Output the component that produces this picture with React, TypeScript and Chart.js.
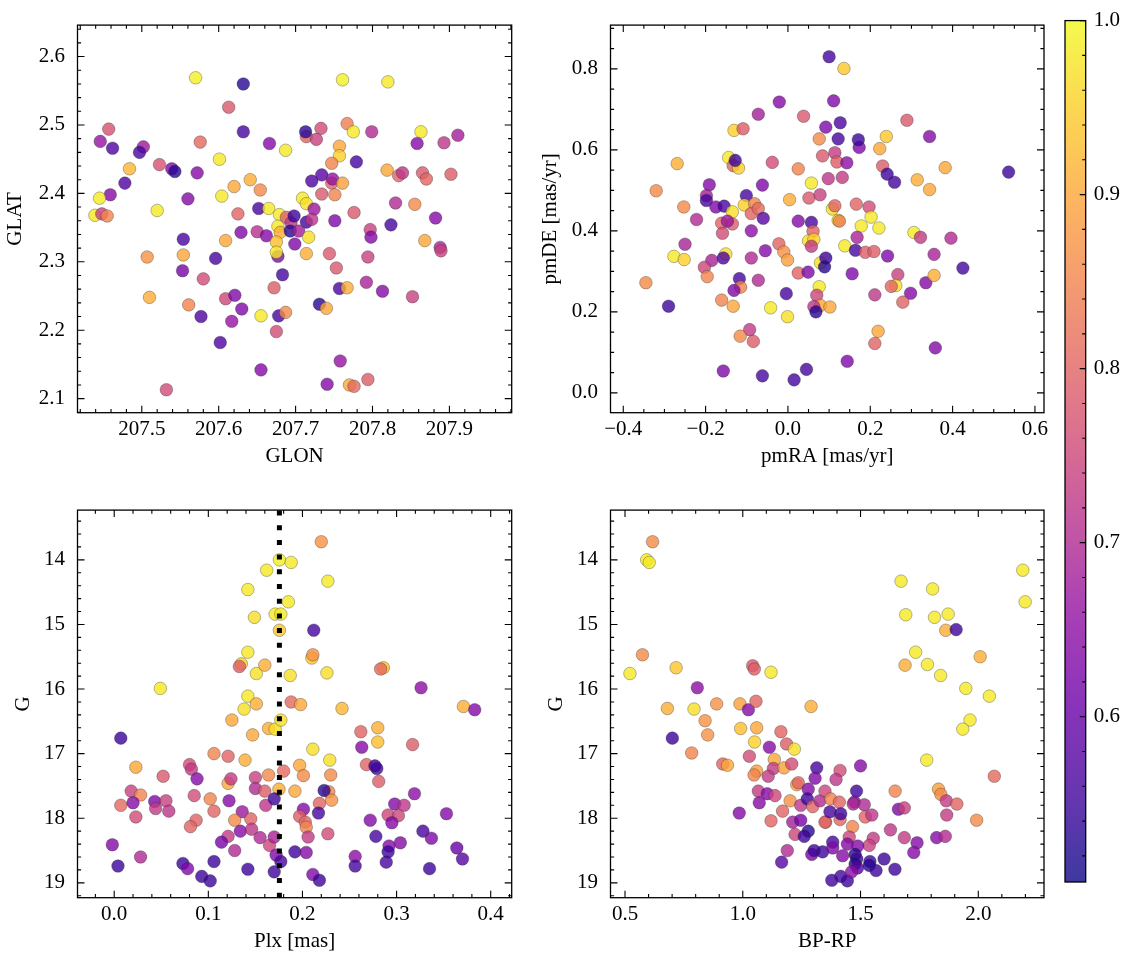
import React, { useEffect, useRef } from "react";
import { Chart, registerables } from "chart.js";

Chart.register(...registerables);

// ---------------- data ----------------
// Panel 1: position (GLON, GLAT) with membership probability
const GLON = [
  207.570, 207.632, 207.613, 207.457, 207.446, 207.462, 207.632, 207.666, 207.687, 207.576,
  207.502, 207.497, 207.523, 207.539, 207.543, 207.572, 207.601, 207.484, 207.478, 207.459,
  207.445, 207.439, 207.448, 207.455, 207.520, 207.560, 207.604, 207.620, 207.641, 207.654,
  207.625, 207.652, 207.665, 207.629, 207.650, 207.662, 207.554, 207.609, 207.507, 207.554,
  207.596, 207.553, 207.580, 207.510, 207.561, 207.577, 207.609, 207.621, 207.630, 207.617,
  207.602, 207.655, 207.532, 207.655, 207.678, 207.687, 207.675, 207.672, 207.683, 207.677,
  207.679, 207.677, 207.680, 207.675, 207.675, 207.688, 207.694, 207.698, 207.693, 207.699,
  207.761, 207.820, 207.714, 207.713, 207.733, 207.727, 207.767, 207.775, 207.799, 207.863,
  207.858, 207.893, 207.911, 207.757, 207.757, 207.747, 207.779, 207.734, 207.721, 207.747,
  207.748, 207.761, 207.734, 207.751, 207.819, 207.834, 207.839, 207.865, 207.870, 207.902,
  207.709, 207.714, 207.724, 207.714, 207.721, 207.704, 207.717, 207.714, 207.751, 207.776,
  207.797, 207.798, 207.824, 207.830, 207.855, 207.882, 207.868, 207.888, 207.889, 207.744,
  207.753, 207.794, 207.792, 207.813, 207.852, 207.757, 207.767, 207.731, 207.740, 207.758,
  207.741, 207.770, 207.776, 207.794,
];
const GLAT = [
  2.569, 2.560, 2.526, 2.494, 2.476, 2.466, 2.490, 2.473, 2.463, 2.475,
  2.468, 2.460, 2.442, 2.436, 2.432, 2.430, 2.450, 2.436, 2.415, 2.398,
  2.393, 2.368, 2.370, 2.367, 2.375, 2.392, 2.396, 2.410, 2.420, 2.405,
  2.370, 2.378, 2.378, 2.343, 2.344, 2.338, 2.333, 2.331, 2.307, 2.310,
  2.305, 2.287, 2.275, 2.248, 2.237, 2.220, 2.246, 2.251, 2.231, 2.213,
  2.182, 2.142, 2.113, 2.221, 2.221, 2.226, 2.198, 2.262, 2.281, 2.308,
  2.369, 2.352, 2.343, 2.329, 2.314, 2.365, 2.357, 2.367, 2.345, 2.326,
  2.566, 2.563, 2.483, 2.490, 2.495, 2.479, 2.502, 2.490, 2.490, 2.490,
  2.473, 2.474, 2.485, 2.469, 2.455, 2.444, 2.446, 2.427, 2.418, 2.415,
  2.421, 2.415, 2.399, 2.398, 2.434, 2.426, 2.430, 2.430, 2.421, 2.428,
  2.393, 2.385, 2.377, 2.358, 2.362, 2.345, 2.336, 2.312, 2.360, 2.372,
  2.347, 2.336, 2.354, 2.386, 2.384, 2.364, 2.331, 2.321, 2.316, 2.312,
  2.291, 2.307, 2.270, 2.257, 2.249, 2.261, 2.262, 2.238, 2.232, 2.155,
  2.121, 2.120, 2.118, 2.128,
];
const P_POS = [
  0.99, 0.53, 0.78, 0.77, 0.66, 0.57, 0.56, 0.64, 0.98, 0.81,
  0.67, 0.56, 0.77, 0.63, 0.53, 0.64, 0.98, 0.92, 0.57, 0.64,
  0.98, 0.98, 0.74, 0.85, 0.98, 0.64, 0.98, 0.90, 0.91, 0.86,
  0.80, 0.56, 0.98, 0.63, 0.71, 0.64, 0.56, 0.90, 0.87, 0.90,
  0.56, 0.62, 0.76, 0.91, 0.85, 0.57, 0.75, 0.63, 0.63, 0.66,
  0.57, 0.64, 0.76, 0.98, 0.56, 0.86, 0.76, 0.79, 0.56, 0.63,
  0.98, 0.98, 0.91, 0.93, 0.98, 0.80, 0.72, 0.55, 0.53, 0.63,
  0.99, 0.98, 0.80, 0.53, 0.76, 0.74, 0.84, 0.98, 0.70, 0.98,
  0.64, 0.72, 0.68, 0.90, 0.95, 0.85, 0.56, 0.58, 0.57, 0.80,
  0.66, 0.89, 0.78, 0.85, 0.90, 0.80, 0.72, 0.78, 0.80, 0.79,
  0.98, 0.97, 0.67, 0.56, 0.72, 0.68, 0.97, 0.91, 0.63, 0.78,
  0.74, 0.64, 0.56, 0.70, 0.86, 0.64, 0.90, 0.69, 0.74, 0.78,
  0.78, 0.74, 0.69, 0.64, 0.74, 0.56, 0.91, 0.53, 0.90, 0.66,
  0.64, 0.90, 0.81, 0.79,
];

// Panel 2: proper motions
const PMRA = [
  0.100, -0.021, -0.072, 0.038, 0.092, -0.131, -0.109, 0.076, 0.084, -0.269,
  -0.144, -0.133, -0.120, -0.128, -0.038, 0.025, 0.098, 0.057, -0.320, -0.191,
  -0.062, -0.198, -0.198, -0.101, -0.175, -0.155, -0.106, -0.081, -0.253, -0.135,
  -0.089, -0.072, 0.004, 0.051, 0.078, -0.222, -0.161, -0.135, -0.147, -0.060,
  0.025, 0.057, -0.159, -0.089, 0.061, 0.050, 0.063, 0.057, -0.250, -0.277,
  -0.252, -0.185, -0.203, -0.196, -0.151, -0.157, -0.089, -0.055, -0.022, -0.010,
  -0.001, 0.025, 0.049, 0.079, 0.092, 0.089, -0.345, -0.290, -0.118, -0.115,
  -0.131, -0.072, -0.161, -0.133, -0.042, -0.004, -0.001, 0.076, 0.070, 0.079,
  0.102, 0.063, 0.068, -0.093, -0.116, -0.084, -0.157, -0.062, 0.015, 0.045,
  0.136, 0.111, 0.289, 0.127, 0.239, 0.344, 0.122, 0.173, 0.171, 0.223,
  0.114, 0.119, 0.143, 0.230, 0.241, 0.259, 0.314, 0.344, 0.382, 0.536,
  0.132, 0.108, 0.114, 0.166, 0.197, 0.202, 0.178, 0.221, 0.122, 0.125,
  0.168, 0.306, 0.322, 0.396, 0.138, 0.164, 0.188, 0.209, 0.242, 0.355,
  0.156, 0.267, 0.262, 0.251, 0.335, 0.355, 0.425, 0.211, 0.298, 0.279,
  0.219, 0.211, 0.358, 0.144,
];
const PMDE = [
  0.830, 0.718, 0.688, 0.683, 0.656, 0.648, 0.652, 0.627, 0.585, 0.566,
  0.581, 0.561, 0.555, 0.574, 0.569, 0.553, 0.529, 0.518, 0.499, 0.514,
  0.513, 0.487, 0.475, 0.487, 0.459, 0.461, 0.464, 0.467, 0.459, 0.447,
  0.443, 0.455, 0.477, 0.481, 0.489, 0.428, 0.419, 0.417, 0.424, 0.431,
  0.424, 0.421, 0.394, 0.400, 0.399, 0.375, 0.379, 0.362, 0.367, 0.337,
  0.329, 0.327, 0.310, 0.287, 0.343, 0.333, 0.333, 0.351, 0.368, 0.348,
  0.328, 0.296, 0.298, 0.321, 0.333, 0.311, 0.272, 0.214, 0.282, 0.261,
  0.253, 0.278, 0.229, 0.214, 0.210, 0.245, 0.188, 0.262, 0.241, 0.216,
  0.212, 0.213, 0.200, 0.156, 0.140, 0.127, 0.054, 0.042, 0.032, 0.058,
  0.801, 0.721, 0.673, 0.667, 0.633, 0.633, 0.627, 0.606, 0.625, 0.603,
  0.593, 0.570, 0.568, 0.560, 0.540, 0.520, 0.526, 0.502, 0.556, 0.545,
  0.532, 0.454, 0.462, 0.466, 0.459, 0.434, 0.412, 0.407, 0.426, 0.424,
  0.384, 0.396, 0.384, 0.382, 0.363, 0.352, 0.347, 0.349, 0.338, 0.342,
  0.294, 0.292, 0.265, 0.263, 0.272, 0.290, 0.308, 0.242, 0.246, 0.224,
  0.152, 0.122, 0.111, 0.078,
];
const P_PM = [
  0.56, 0.64, 0.68, 0.78, 0.63, 0.95, 0.79, 0.86, 0.78, 0.91,
  0.98, 0.80, 0.95, 0.55, 0.76, 0.85, 0.72, 0.98, 0.86, 0.64,
  0.63, 0.68, 0.56, 0.56, 0.63, 0.56, 0.95, 0.85, 0.86, 0.97,
  0.80, 0.81, 0.91, 0.78, 0.74, 0.70, 0.80, 0.79, 0.67, 0.58,
  0.64, 0.56, 0.76, 0.65, 0.80, 0.97, 0.95, 0.73, 0.69, 0.98,
  0.95, 0.69, 0.75, 0.85, 0.97, 0.57, 0.70, 0.64, 0.80, 0.87,
  0.89, 0.80, 0.63, 0.97, 0.55, 0.53, 0.86, 0.55, 0.56, 0.85,
  0.63, 0.70, 0.85, 0.90, 0.98, 0.56, 0.97, 0.98, 0.75, 0.90,
  0.90, 0.72, 0.53, 0.73, 0.86, 0.79, 0.63, 0.56, 0.56, 0.56,
  0.94, 0.63, 0.78, 0.57, 0.94, 0.64, 0.56, 0.63, 0.55, 0.90,
  0.73, 0.79, 0.65, 0.79, 0.55, 0.56, 0.91, 0.90, 0.90, 0.55,
  0.73, 0.97, 0.80, 0.80, 0.76, 0.98, 0.98, 0.98, 0.97, 0.84,
  0.69, 0.98, 0.73, 0.70, 0.98, 0.56, 0.79, 0.79, 0.63, 0.69,
  0.63, 0.74, 0.97, 0.80, 0.64, 0.91, 0.56, 0.72, 0.64, 0.80,
  0.90, 0.80, 0.64, 0.63,
];

// Panel 3: parallax vs G
const PLX = [
  0.1755, 0.188, 0.162, 0.142, 0.185, 0.149, 0.171, 0.177, 0.1755, 0.142,
  0.135, 0.133, 0.151, 0.160, 0.187, 0.049, 0.142, 0.151, 0.138, 0.188,
  0.125, 0.164, 0.171, 0.177, 0.147, 0.007, 0.106, 0.121, 0.139, 0.023,
  0.080, 0.082, 0.052, 0.088, 0.121, 0.124, 0.150, 0.164, 0.180, 0.018,
  0.028, 0.007, 0.020, 0.023, 0.043, 0.055, 0.044, 0.058, 0.085, 0.150,
  0.160, 0.175, 0.102, 0.122, 0.161, 0.170, 0.106, 0.136, 0.128, 0.145,
  0.087, 0.081, 0.134, 0.146, 0.155, 0.121, 0.114, 0.128, 0.165, 0.170,
  0.172, 0.177, -0.002, 0.028, 0.004, 0.073, 0.078, 0.106, 0.093, 0.102,
  0.142, 0.170, 0.220, 0.227, 0.212, 0.210, 0.211, 0.226, 0.286, 0.283,
  0.326, 0.198, 0.242, 0.371, 0.383, 0.262, 0.280, 0.280, 0.263, 0.317,
  0.211, 0.229, 0.197, 0.201, 0.230, 0.268, 0.279, 0.277, 0.281, 0.192,
  0.228, 0.223, 0.231, 0.218, 0.201, 0.217, 0.197, 0.203, 0.204, 0.206,
  0.227, 0.272, 0.291, 0.298, 0.308, 0.319, 0.302, 0.295, 0.278, 0.304,
  0.292, 0.291, 0.289, 0.256, 0.256, 0.328, 0.337, 0.353, 0.364, 0.370,
  0.335, 0.192, 0.204, 0.211, 0.218,
];
const G_PLX = [
  14.00, 14.04, 14.16, 14.46, 14.65, 14.89, 14.84, 14.84, 15.09, 15.43,
  15.61, 15.65, 15.76, 15.63, 15.79, 15.99, 16.11, 16.23, 16.31, 16.20,
  16.48, 16.61, 16.62, 16.48, 16.71, 16.76, 17.00, 17.04, 17.10, 17.21,
  17.17, 17.24, 17.35, 17.39, 17.46, 17.39, 17.37, 17.33, 17.27, 17.58,
  17.64, 17.80, 17.76, 17.98, 17.74, 17.73, 17.85, 17.89, 17.65, 17.54,
  17.58, 17.55, 17.70, 17.73, 17.80, 17.70, 17.89, 17.90, 18.03, 18.01,
  18.03, 18.13, 18.20, 18.17, 18.30, 18.28, 18.37, 18.50, 18.42, 18.29,
  18.57, 18.67, 18.41, 18.60, 18.74, 18.70, 18.78, 18.67, 18.90, 18.97,
  18.79, 18.83, 13.72, 14.33, 15.09, 15.52, 15.47, 15.75, 15.67, 15.69,
  15.98, 16.24, 16.30, 16.27, 16.32, 16.66, 16.60, 16.82, 16.90, 16.86,
  16.93, 17.10, 17.18, 17.34, 17.33, 17.17, 17.23, 17.19, 17.43, 17.58,
  17.59, 17.57, 17.72, 17.77, 17.86, 17.92, 17.97, 18.06, 18.14, 18.29,
  18.24, 18.03, 17.95, 17.78, 17.80, 17.62, 17.96, 18.07, 18.28, 18.38,
  18.43, 18.52, 18.68, 18.59, 18.74, 18.20, 18.31, 17.93, 18.46, 18.63,
  18.78, 18.52, 18.53, 18.87, 18.96,
];
const P_PLX = [
  0.99, 0.98, 0.98, 0.98, 0.98, 0.97, 0.98, 0.98, 0.94, 0.98,
  0.95, 0.79, 0.97, 0.91, 0.97, 0.98, 0.98, 0.91, 0.97, 0.81,
  0.90, 0.91, 0.97, 0.97, 0.90, 0.55, 0.85, 0.80, 0.91, 0.90,
  0.76, 0.73, 0.78, 0.64, 0.90, 0.73, 0.74, 0.86, 0.81, 0.74,
  0.85, 0.81, 0.64, 0.76, 0.63, 0.74, 0.73, 0.72, 0.76, 0.70,
  0.79, 0.91, 0.85, 0.64, 0.72, 0.55, 0.80, 0.67, 0.86, 0.80,
  0.80, 0.80, 0.64, 0.72, 0.70, 0.73, 0.62, 0.70, 0.75, 0.69,
  0.63, 0.56, 0.64, 0.70, 0.55, 0.55, 0.63, 0.55, 0.55, 0.55,
  0.55, 0.55, 0.87, 0.98, 0.56, 0.94, 0.87, 0.97, 0.93, 0.81,
  0.65, 0.90, 0.92, 0.91, 0.64, 0.80, 0.91, 0.93, 0.64, 0.79,
  0.97, 0.97, 0.90, 0.86, 0.86, 0.80, 0.56, 0.55, 0.79, 0.90,
  0.85, 0.53, 0.87, 0.80, 0.64, 0.56, 0.79, 0.80, 0.85, 0.73,
  0.76, 0.64, 0.75, 0.64, 0.72, 0.65, 0.75, 0.64, 0.56, 0.64,
  0.64, 0.55, 0.56, 0.65, 0.56, 0.56, 0.63, 0.64, 0.60, 0.58,
  0.55, 0.55, 0.64, 0.63, 0.55,
];
const PLX_CUT = 0.1755;

// Panel 4: colour-magnitude diagram
const BPRP = [
  0.617, 0.592, 0.603, 0.574, 0.521, 0.717, 1.042, 1.049, 1.120, 0.807,
  0.680, 0.793, 0.889, 0.988, 1.024, 1.056, 1.290, 0.840, 0.851, 0.701,
  0.991, 1.059, 1.050, 1.162, 1.113, 1.186, 1.219, 0.783, 0.915, 0.935,
  1.028, 1.134, 1.130, 1.175, 1.208, 1.059, 1.048, 1.108, 1.314, 1.307,
  1.229, 1.236, 1.066, 1.104, 1.137, 1.278, 1.070, 1.201, 1.246, 1.274,
  1.297, 1.328, 0.985, 1.120, 1.169, 1.212, 1.246, 1.222, 1.278, 1.261,
  1.352, 1.189, 1.165, 1.293, 1.303, 1.339,
  1.672, 1.806, 2.189, 2.199, 1.692, 1.814, 1.872, 1.862, 1.906, 1.734,
  1.784, 1.840, 1.689, 2.008, 1.947, 2.047, 1.965, 1.934, 1.781, 2.068,
  1.500, 1.413, 1.396, 1.483, 1.349, 1.373, 1.410, 1.474, 1.469, 1.516,
  1.647, 1.831, 1.841, 1.864, 1.909, 1.661, 1.686, 1.349, 1.413, 1.370,
  1.416, 1.520, 1.548, 1.866, 1.993, 1.466, 1.627, 1.686, 1.740, 1.726,
  1.823, 1.860, 1.452, 1.554, 1.537, 1.382, 1.444, 1.488, 1.382, 1.424,
  1.477, 1.484, 1.477, 1.487, 1.540, 1.537, 1.566, 1.600, 1.646, 1.378,
  1.416, 1.444, 1.462,
];
const G_CMD = [
  13.72, 14.00, 14.04, 15.47, 15.76, 15.67, 15.64, 15.69, 15.74, 15.98,
  16.30, 16.31, 16.23, 16.23, 16.32, 16.19, 16.27, 16.49, 16.71, 16.76,
  16.61, 16.60, 16.82, 16.66, 16.90, 16.85, 16.93, 16.99, 17.16, 17.18,
  17.04, 17.09, 17.23, 17.22, 17.16, 17.27, 17.33, 17.35, 17.22, 17.38,
  17.48, 17.45, 17.58, 17.62, 17.65, 17.55, 17.76, 17.73, 17.80, 17.70,
  17.82, 17.73, 17.92, 18.04, 17.89, 18.06, 18.03, 18.25, 18.20, 18.28,
  18.06, 18.50, 18.68, 18.56, 18.50, 18.52,
  14.33, 14.45, 14.16, 14.65, 14.85, 14.89, 14.84, 15.09, 15.08, 15.43,
  15.62, 15.79, 15.63, 15.50, 15.99, 16.11, 16.48, 16.62, 17.10, 17.35,
  17.19, 17.26, 17.40, 17.58, 17.58, 17.70, 17.75, 17.75, 17.78, 17.79,
  17.58, 17.55, 17.63, 17.73, 17.78, 17.86, 17.84, 18.06, 18.02, 17.90,
  17.93, 17.98, 17.95, 17.95, 18.03, 18.13, 18.18, 18.30, 18.38, 18.53,
  18.30, 18.28, 18.29, 18.31, 18.42, 18.37, 18.40, 18.43, 18.46, 18.58,
  18.56, 18.63, 18.71, 18.77, 18.67, 18.73, 18.81, 18.63, 18.79, 18.96,
  18.90, 18.97, 18.83,
];
const P_CMD = [
  0.86, 0.98, 0.98, 0.86, 0.98, 0.94, 0.78, 0.79, 0.98, 0.65,
  0.91, 0.97, 0.87, 0.89, 0.64, 0.80, 0.91, 0.87, 0.87, 0.55,
  0.93, 0.90, 0.95, 0.80, 0.64, 0.79, 0.97, 0.85, 0.80, 0.90,
  0.76, 0.90, 0.73, 0.89, 0.76, 0.89, 0.85, 0.73, 0.56, 0.63,
  0.89, 0.80, 0.73, 0.64, 0.75, 0.64, 0.64, 0.87, 0.72, 0.55,
  0.80, 0.70, 0.64, 0.80, 0.80, 0.68, 0.62, 0.75, 0.53, 0.55,
  0.80, 0.70, 0.58, 0.62, 0.55, 0.55,
  0.98, 0.98, 0.98, 0.98, 0.98, 0.98, 0.98, 0.91, 0.55, 0.98,
  0.98, 0.98, 0.91, 0.91, 0.98, 0.98, 0.98, 0.98, 0.98, 0.81,
  0.64, 0.76, 0.72, 0.55, 0.75, 0.85, 0.80, 0.62, 0.70, 0.70,
  0.85, 0.89, 0.86, 0.73, 0.80, 0.63, 0.74, 0.80, 0.80, 0.56,
  0.55, 0.80, 0.72, 0.73, 0.86, 0.85, 0.72, 0.73, 0.64, 0.64,
  0.64, 0.70, 0.75, 0.73, 0.74, 0.56, 0.64, 0.64, 0.63, 0.64,
  0.53, 0.55, 0.53, 0.58, 0.55, 0.53, 0.55, 0.55, 0.55, 0.55,
  0.56, 0.55, 0.65,
];

// tick labels
const GLON_TICKS = [207.5, 207.6, 207.7, 207.8, 207.9];
const GLAT_TICKS = [2.1, 2.2, 2.3, 2.4, 2.5, 2.6];
const PMRA_TICKS = [-0.4, -0.2, 0.0, 0.2, 0.4, 0.6];
const PMDE_TICKS = [0.0, 0.2, 0.4, 0.6, 0.8];
const PLX_TICKS = [0.0, 0.1, 0.2, 0.3, 0.4];
const G_TICKS = [14, 15, 16, 17, 18, 19];
const BPRP_TICKS = [0.5, 1.0, 1.5, 2.0];
const CB_TICKS = [0.6, 0.7, 0.8, 0.9, 1.0];
const CB_MIN = 0.505;
const CB_MAX = 1.0;

// ---------------- styling helpers ----------------
const FONT = "'Liberation Serif', 'Times New Roman', serif";
const FONT_SIZE = 21;

const PLASMA = [
  [13, 8, 135], [65, 4, 157], [106, 0, 168], [143, 13, 164], [177, 42, 144],
  [204, 71, 120], [225, 100, 98], [242, 132, 75], [252, 166, 54], [252, 206, 37], [240, 249, 33],
];
function plasma(t: number, alpha: number): string {
  const tt = Math.max(0, Math.min(1, t));
  const f = tt * 10;
  const i = Math.min(9, Math.floor(f));
  const u = f - i;
  const c = PLASMA[i].map((v, k) => Math.round(v + (PLASMA[i + 1][k] - v) * u));
  return `rgba(${c[0]},${c[1]},${c[2]},${alpha})`;
}
const probColor = (p: number) => plasma((p - CB_MIN) / (CB_MAX - CB_MIN), 0.8);

function steps(min: number, max: number, step: number): number[] {
  const out: number[] = [];
  const a = Math.ceil(min / step - 1e-9);
  const b = Math.floor(max / step + 1e-9);
  for (let i = a; i <= b; i++) out.push(+(i * step).toFixed(6));
  return out;
}

const fmt1 = (v: number) => (v < -1e-9 ? "\u2212" : "") + Math.abs(v).toFixed(1);
const fmt0 = (v: number) => String(Math.round(v));

interface AxisSpec {
  min: number; max: number; major: number[]; minorStep: number;
  fmt: (v: number) => string; title: string; titlePad: number; reverse?: boolean;
}
interface PanelSpec {
  left: number; top: number; w: number; h: number;
  area: { l: number; t: number; r: number; b: number };
  x: AxisSpec; y: AxisSpec;
  xs: number[]; ys: number[]; ps: number[];
  vline?: number;
}

function decorPlugin(s: PanelSpec) {
  return {
    id: "mplDecor",
    afterDraw(chart: any) {
      const { ctx, chartArea: a } = chart;
      const xs = chart.scales.x;
      const ys = chart.scales.y;
      ctx.save();
      ctx.strokeStyle = "#000";
      ctx.lineWidth = 1.1;
      ctx.beginPath();
      const xt = (vals: number[], len: number) => vals.forEach((v) => {
        const p = xs.getPixelForValue(v);
        if (p < a.left - 0.5 || p > a.right + 0.5) return;
        ctx.moveTo(p, a.bottom); ctx.lineTo(p, a.bottom - len);
        ctx.moveTo(p, a.top); ctx.lineTo(p, a.top + len);
      });
      const yt = (vals: number[], len: number) => vals.forEach((v) => {
        const p = ys.getPixelForValue(v);
        if (p < a.top - 0.5 || p > a.bottom + 0.5) return;
        ctx.moveTo(a.left, p); ctx.lineTo(a.left + len, p);
        ctx.moveTo(a.right, p); ctx.lineTo(a.right - len, p);
      });
      xt(s.x.major, 7);
      xt(steps(s.x.min, s.x.max, s.x.minorStep), 3.6);
      yt(s.y.major, 7);
      yt(steps(s.y.min, s.y.max, s.y.minorStep), 3.6);
      ctx.stroke();
      ctx.lineWidth = 1.3;
      ctx.strokeRect(a.left, a.top, a.right - a.left, a.bottom - a.top);
      ctx.restore();
    },
  };
}

function panelConfig(s: PanelSpec): any {
  const font = { family: FONT, size: FONT_SIZE };
  const datasets: any[] = [
    {
      type: "scatter",
      data: s.xs.map((x, i) => ({ x, y: s.ys[i] })),
      pointRadius: 6.3,
      pointBackgroundColor: s.ps.map(probColor),
      pointBorderColor: "rgba(40,40,40,0.55)",
      pointBorderWidth: 0.6,
      order: 1,
    },
  ];
  if (s.vline !== undefined) {
    datasets.push({
      type: "line",
      data: [{ x: s.vline, y: s.y.max }, { x: s.vline, y: s.y.min }],
      borderColor: "#000",
      borderWidth: 5,
      borderDash: [5, 9.7],
      borderCapStyle: "butt",
      pointRadius: 0,
      fill: false,
      tension: 0,
      order: 0,
    });
  }
  const axis = (ax: AxisSpec, isX: boolean) => ({
    type: "linear",
    position: isX ? "bottom" : "left",
    min: ax.min,
    max: ax.max,
    reverse: !!ax.reverse,
    grid: { display: false, drawTicks: false },
    border: { display: false },
    ticks: {
      font, color: "#000", padding: isX ? 4 : 12.5, autoSkip: false,
      maxRotation: 0, minRotation: 0,
      callback: (v: any) => ax.fmt(Number(v)),
    },
    afterBuildTicks: (sc: any) => { sc.ticks = ax.major.map((v) => ({ value: v })); },
    afterFit: (sc: any) => {
      if (isX) sc.height = s.top + s.h - s.area.b;
      else sc.width = s.area.l - s.left;
    },
    title: {
      display: true, text: ax.title, font, color: "#000",
      padding: isX ? { top: 0, bottom: ax.titlePad } : { top: ax.titlePad, bottom: 0 },
    },
  });
  return {
    type: "scatter",
    data: { datasets },
    options: {
      animation: false,
      responsive: false,
      maintainAspectRatio: false,
      devicePixelRatio: 1,
      events: [],
      layout: { padding: { top: s.area.t - s.top, right: s.left + s.w - s.area.r, left: 0, bottom: 0 } },
      plugins: { legend: { display: false }, tooltip: { enabled: false } },
      scales: { x: axis(s.x, true), y: axis(s.y, false) },
    },
    plugins: [decorPlugin(s)],
  };
}

const G_MIN = 13.23;
const G_MAX = 19.23;

const PANELS: PanelSpec[] = [
  {
    left: 0, top: 0, w: 530, h: 480,
    area: { l: 77.5, t: 15, r: 511.7, b: 412.7 },
    x: { min: 207.4164, max: 207.981, major: GLON_TICKS, minorStep: 0.02, fmt: fmt1, title: "GLON", titlePad: 10.7 },
    y: { min: 2.0794, max: 2.646, major: GLAT_TICKS, minorStep: 0.02, fmt: fmt1, title: "GLAT", titlePad: 3.2 },
    xs: GLON, ys: GLAT, ps: P_POS,
  },
  {
    left: 530, top: 0, w: 530, h: 480,
    area: { l: 610.5, t: 15, r: 1044, b: 412.7 },
    x: { min: -0.431, max: 0.622, major: PMRA_TICKS, minorStep: 0.05, fmt: fmt1, title: "pmRA [mas/yr]", titlePad: 10.7 },
    y: { min: -0.049, max: 0.908, major: PMDE_TICKS, minorStep: 0.05, fmt: fmt1, title: "pmDE [mas/yr]", titlePad: 8 },
    xs: PMRA, ys: PMDE, ps: P_PM,
  },
  {
    left: 0, top: 485, w: 530, h: 480,
    area: { l: 77.5, t: 500, r: 511.7, b: 897.7 },
    x: { min: -0.039, max: 0.4223, major: PLX_TICKS, minorStep: 0.02, fmt: fmt1, title: "Plx [mas]", titlePad: 10.7 },
    y: { min: G_MIN, max: G_MAX, major: G_TICKS, minorStep: 0.2, fmt: fmt0, title: "G", titlePad: 11, reverse: true },
    xs: PLX, ys: G_PLX, ps: P_PLX, vline: PLX_CUT,
  },
  {
    left: 530, top: 485, w: 530, h: 480,
    area: { l: 610.5, t: 500, r: 1044, b: 897.7 },
    x: { min: 0.4384, max: 2.279, major: BPRP_TICKS, minorStep: 0.1, fmt: fmt1, title: "BP-RP", titlePad: 10.7 },
    y: { min: G_MIN, max: G_MAX, major: G_TICKS, minorStep: 0.2, fmt: fmt0, title: "G", titlePad: 14, reverse: true },
    xs: BPRP, ys: G_CMD, ps: P_CMD,
  },
];

const CB_BOX = { left: 1060, top: 0, w: 73, h: 965, l: 1065, t: 15, r: 1085.7, b: 882 };

function colorbarConfig(): any {
  const font = { family: FONT, size: FONT_SIZE };
  const plugin = {
    id: "cbar",
    beforeDatasetsDraw(chart: any) {
      const { ctx, chartArea: a } = chart;
      const g = ctx.createLinearGradient(0, a.bottom, 0, a.top);
      PLASMA.forEach((c, i) => g.addColorStop(i / 10, `rgba(${c[0]},${c[1]},${c[2]},0.8)`));
      ctx.save();
      ctx.fillStyle = g;
      ctx.fillRect(a.left, a.top, a.right - a.left, a.bottom - a.top);
      ctx.restore();
    },
    afterDraw(chart: any) {
      const { ctx, chartArea: a } = chart;
      const ys = chart.scales.y;
      ctx.save();
      ctx.strokeStyle = "#000";
      ctx.lineWidth = 1.1;
      ctx.beginPath();
      CB_TICKS.forEach((v) => {
        const p = ys.getPixelForValue(v);
        ctx.moveTo(a.right, p); ctx.lineTo(a.right - 6, p);
      });
      steps(CB_MIN, CB_MAX, 0.02).forEach((v) => {
        const p = ys.getPixelForValue(v);
        ctx.moveTo(a.right, p); ctx.lineTo(a.right - 3.5, p);
      });
      ctx.stroke();
      ctx.lineWidth = 1.3;
      ctx.strokeRect(a.left, a.top, a.right - a.left, a.bottom - a.top);
      ctx.restore();
    },
  };
  return {
    type: "scatter",
    data: { datasets: [] },
    options: {
      animation: false,
      responsive: false,
      maintainAspectRatio: false,
      devicePixelRatio: 1,
      events: [],
      layout: { padding: { left: CB_BOX.l - CB_BOX.left, top: CB_BOX.t - CB_BOX.top, right: 0, bottom: CB_BOX.top + CB_BOX.h - CB_BOX.b } },
      plugins: { legend: { display: false }, tooltip: { enabled: false } },
      scales: {
        x: { type: "linear", display: false, min: 0, max: 1 },
        y: {
          type: "linear", position: "right", min: CB_MIN, max: CB_MAX,
          grid: { display: false, drawTicks: false },
          border: { display: false },
          ticks: { font, color: "#000", padding: 8, autoSkip: false, callback: (v: any) => Number(v).toFixed(1) },
          afterBuildTicks: (sc: any) => { sc.ticks = CB_TICKS.map((v) => ({ value: v })); },
          afterFit: (sc: any) => { sc.width = CB_BOX.left + CB_BOX.w - CB_BOX.r; },
        },
      },
    },
    plugins: [plugin],
  };
}

function ChartBox(props: { left: number; top: number; w: number; h: number; make: () => any }) {
  const ref = useRef<HTMLCanvasElement | null>(null);
  useEffect(() => {
    if (!ref.current) return;
    const chart = new Chart(ref.current, props.make());
    return () => chart.destroy();
  }, []);
  return (
    <canvas
      ref={ref}
      width={props.w}
      height={props.h}
      style={{ position: "absolute", left: props.left, top: props.top, width: props.w, height: props.h }}
    />
  );
}

export default function App() {
  return (
    <div style={{ position: "absolute", left: 0, top: 0, width: 1133, height: 965, background: "#fff", overflow: "hidden" }}>
      {PANELS.map((p, i) => (
        <ChartBox key={i} left={p.left} top={p.top} w={p.w} h={p.h} make={() => panelConfig(p)} />
      ))}
      <ChartBox left={CB_BOX.left} top={CB_BOX.top} w={CB_BOX.w} h={CB_BOX.h} make={colorbarConfig} />
    </div>
  );
}
